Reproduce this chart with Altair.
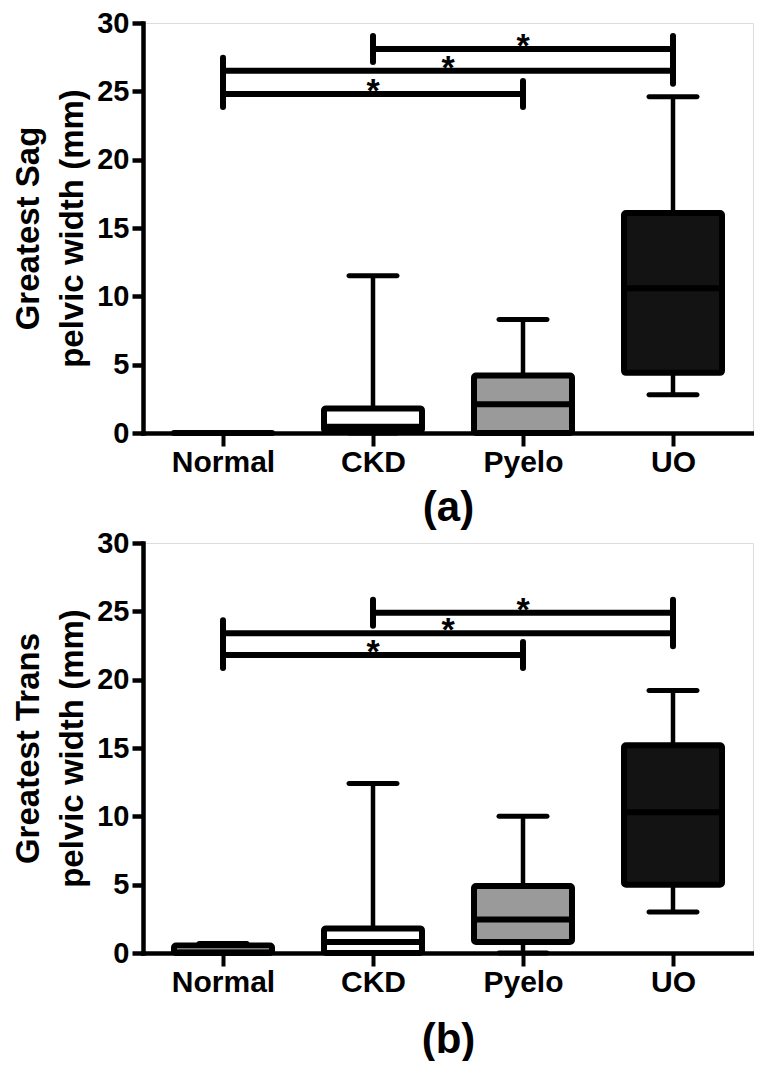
import altair as alt
import pandas as pd

categories = ["Normal", "CKD", "Pyelo", "UO"]

# Panel (a): Greatest sagittal pelvic width (mm)
sag_low = [0.0, 0.0, 0.0, 2.8]
sag_q1 = [0.0, 0.15, 0.0, 4.4]
sag_med = [0.0, 0.45, 2.1, 10.6]
sag_q3 = [0.0, 1.8, 4.2, 16.1]
sag_high = [0.0, 11.5, 8.3, 24.6]

# Panel (b): Greatest transverse pelvic width (mm)
trans_low = [0.0, 0.0, 0.0, 3.0]
trans_q1 = [0.0, 0.0, 0.8, 5.0]
trans_med = [0.05, 0.8, 2.45, 10.3]
trans_q3 = [0.55, 1.8, 4.9, 15.2]
trans_high = [0.7, 12.4, 10.0, 19.2]

# significance comparisons (category indices)
sig_start = [0, 0, 1]
sig_end = [2, 3, 3]
sig_label = ["*", "*", "*"]
sag_sig_y = [24.8, 26.5, 28.1]
trans_sig_y = [21.8, 23.4, 24.9]

y_ticks = [0, 5, 10, 15, 20, 25, 30]

FILLS = ["#ffffff", "#ffffff", "#9a9a9a", "#131313"]
FONT = "Liberation Sans"

label_expr = "[" + ",".join("'%s'" % c for c in categories) + "][datum.value]"


def panel(low, q1, med, q3, high, sig_y, ytitle, xtitle, xtitle_pad):
    box = pd.DataFrame({"i": list(range(len(categories))), "cat": categories,
                        "low": low, "q1": q1, "med": med, "q3": q3, "high": high})
    sig = pd.DataFrame({"s": sig_start, "e": sig_end, "y": sig_y, "star": sig_label})

    xaxis = alt.Axis(values=list(range(len(categories))), labelExpr=label_expr,
                     tickSize=13, tickWidth=4, tickColor="black",
                     domainWidth=4.5, domainColor="black", domainCap="square",
                     labelFontSize=30, labelFontWeight="bold", labelColor="black",
                     labelPadding=1, labelFont=FONT,
                     titleFontSize=42, titleFontWeight="bold", titleColor="black",
                     titlePadding=xtitle_pad, titleFont=FONT, grid=False)
    yaxis = alt.Axis(values=y_ticks, tickSize=11, tickWidth=4.5, tickColor="black",
                     domainWidth=4.5, domainColor="black", domainCap="square",
                     labelFontSize=29, labelFontWeight="bold", labelColor="black",
                     labelPadding=3, labelFont=FONT,
                     titleFontSize=33, titleFontWeight="bold", titleColor="black",
                     titleLineHeight=44, titlePadding=7, titleFont=FONT, grid=False)
    xs = alt.Scale(domain=[-0.5, 3.5], nice=False, zero=False)
    ys = alt.Scale(domain=[0, 30], nice=False, zero=False)

    def X(f):
        return alt.X(f, type="quantitative", scale=xs, axis=xaxis, title=xtitle)

    def Y(f):
        return alt.Y(f, type="quantitative", scale=ys, axis=yaxis, title=ytitle)

    base = alt.Chart(box)
    whisk_hi = base.mark_rule(color="black", strokeWidth=4.5, opacity=1).encode(
        x=X("i"), y=Y("q3"), y2="high")
    whisk_lo = base.mark_rule(color="black", strokeWidth=4.5, opacity=1).encode(
        x=X("i"), y=Y("low"), y2="q1")
    caps_hi = base.mark_tick(color="black", orient="horizontal", size=53, opacity=1,
                             thickness=5, cornerRadius=2.5).encode(x=X("i"), y=Y("high"))
    caps_lo = base.mark_tick(color="black", orient="horizontal", size=53, opacity=1,
                             thickness=5, cornerRadius=2.5).encode(x=X("i"), y=Y("low"))
    boxes = base.mark_bar(orient="vertical", size=98, stroke="black", strokeWidth=6,
                          strokeJoin="round", cornerRadius=2, opacity=1).encode(
        x=X("i"), y=Y("q1"), y2="q3",
        fill=alt.Fill("cat:N", scale=alt.Scale(domain=categories, range=FILLS), legend=None))
    meds = base.mark_tick(color="black", orient="horizontal", size=98, opacity=1,
                          thickness=6).encode(x=X("i"), y=Y("med"))

    sbase = alt.Chart(sig)
    sig_rules = sbase.mark_rule(color="black", strokeWidth=6, opacity=1).encode(
        x=X("s"), x2="e", y=Y("y"))
    sig_cap_a = sbase.transform_calculate(ylo="datum.y - 0.95", yhi="datum.y + 0.95").mark_rule(
        color="black", strokeWidth=6, strokeCap="round", opacity=1).encode(
        x=X("s"), y=Y("ylo"), y2="yhi")
    sig_cap_b = sbase.transform_calculate(ylo="datum.y - 0.95", yhi="datum.y + 0.95").mark_rule(
        color="black", strokeWidth=6, strokeCap="round", opacity=1).encode(
        x=X("e"), y=Y("ylo"), y2="yhi")
    stars = sbase.transform_calculate(mid="(datum.s + datum.e) / 2").mark_text(
        font=FONT, fontSize=34, fontWeight="bold", color="black",
        baseline="alphabetic", dy=8).encode(x=X("mid"), y=Y("y"), text="star:N")

    return alt.layer(whisk_hi, whisk_lo, boxes, meds, caps_hi, caps_lo,
                     sig_rules, sig_cap_a, sig_cap_b, stars).properties(width=610, height=410)


pa = panel(sag_low, sag_q1, sag_med, sag_q3, sag_high, sag_sig_y,
           ["Greatest Sag", "pelvic width (mm)"], "(a)", 10)
pb = panel(trans_low, trans_q1, trans_med, trans_q3, trans_high, trans_sig_y,
           ["Greatest Trans", "pelvic width (mm)"], "(b)", 22)

chart = alt.vconcat(pa, pb, spacing=110, bounds="flush").properties(
    padding={"left": 4, "top": 0, "right": 0, "bottom": 0}
).configure_view(stroke=None).configure(font=FONT, background="white")

chart.save("out.html", embed_options={"renderer": "svg", "actions": False})
